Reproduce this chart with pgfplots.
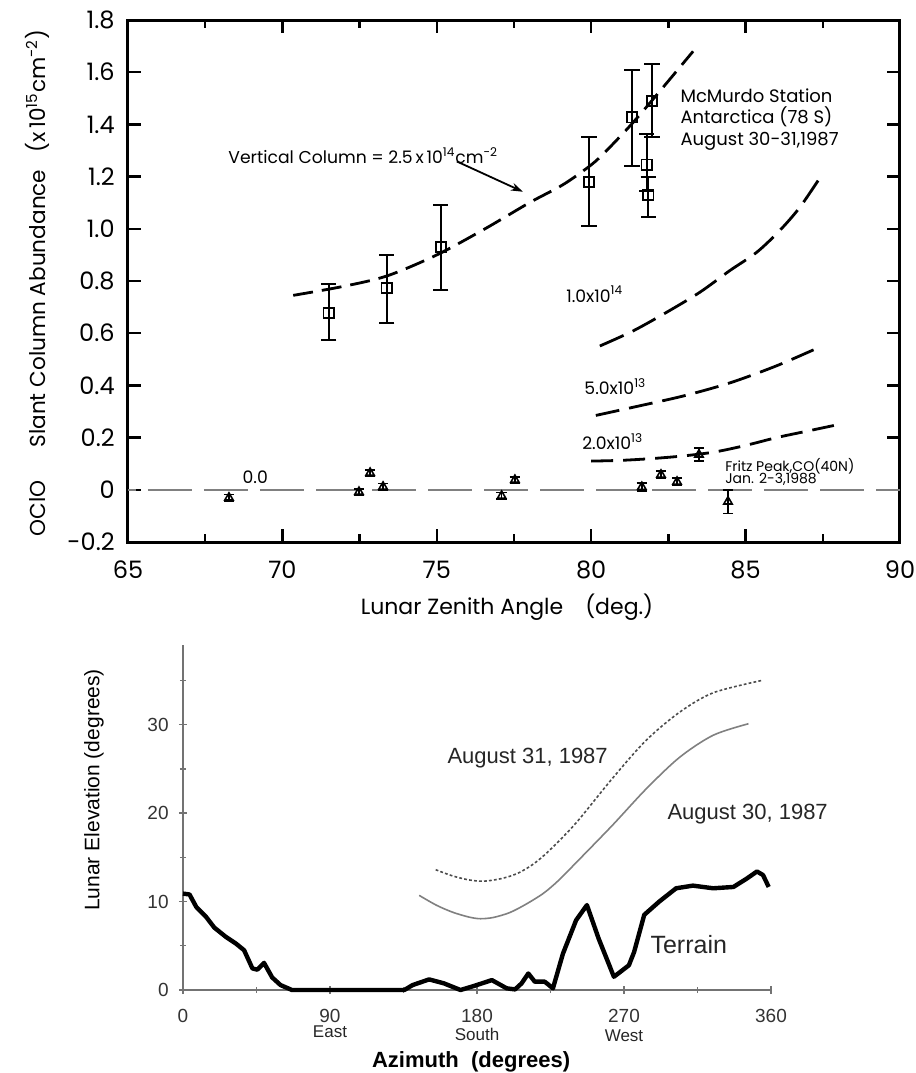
\documentclass[border=0pt]{standalone}
\usepackage{fontspec}
\setmainfont{Liberation Sans}
\newfontfamily\topfont{Poppins}
\usepackage{pgfplots}
\pgfplotsset{compat=1.18}
\usetikzlibrary{arrows.meta}

% OClO slant columns, McMurdo (squares) and Fritz Peak (triangles)
\pgfplotstableread{
x      y      ep     em
71.50  0.677  0.113  0.104
73.38  0.773  0.127  0.133
75.13  0.930  0.160  0.165
79.93  1.180  0.170  0.170
81.32  1.427  0.183  0.187
81.97  1.490  0.140  0.140
81.80  1.246  0.119  0.100
81.85  1.130  0.070  0.084
}\mcmurdo
\pgfplotstableread{
x      y       ep     em
68.27  -0.030  0.012  0.012
72.48  -0.008  0.012  0.012
72.84   0.065  0.012  0.012
73.26   0.012  0.012  0.012
77.10  -0.023  0.012  0.012
77.53   0.038  0.012  0.012
81.64   0.011  0.015  0.015
82.26   0.058  0.015  0.015
82.78   0.031  0.015  0.015
83.49   0.135  0.025  0.025
84.43  -0.045  0.045  0.045
}\fritz

\begin{document}
\begin{tikzpicture}
\useasboundingbox (0,0) rectangle (458pt,-536.5pt);

\begin{axis}[
  at={(64pt,-271pt)}, anchor=south west,
  scale only axis, width=386pt, height=261pt,
  xmin=65, xmax=90, ymin=-0.2, ymax=1.8,
  xtick={65,70,75,80,85,90}, xticklabels={65,70,75,80,85,90},
  minor x tick num=1,
  ytick={-0.2,0,0.2,0.4,0.6,0.8,1.0,1.2,1.4,1.6,1.8},
  yticklabels={-0.2,0,0.2,0.4,0.6,0.8,1.0,1.2,1.4,1.6,1.8},
  tick align=inside, major tick length=6.5pt, minor tick length=4pt,
  every tick/.style={black, line width=1.2pt},
  axis line style={line width=1.5pt},
  ticklabel style={font=\topfont\fontsize{12}{12}\selectfont},
  xticklabel style={anchor=center, yshift=-14pt},
  yticklabel style={anchor=east, inner sep=0pt, xshift=-6.5pt},
  xlabel={Lunar Zenith Angle\quad(deg.)},
  xlabel style={font=\topfont\fontsize{11}{11}\selectfont,
    at={(axis description cs:0.491,-0.1245)}, anchor=center},
  ylabel={OClO\quad\ \ Slant Column Abundance\ \ \ (x\,10\textsuperscript{15}cm\textsuperscript{-2})},
  ylabel style={font=\topfont\fontsize{10.8}{10.8}\selectfont,
    at={(axis description cs:-0.1179,0.496)}, anchor=center},
]
% model curves for several vertical columns
\addplot[smooth, line width=1.4pt, dash pattern=on 10pt off 4.5pt] coordinates {
  (70.35,0.745) (72,0.78) (73.4,0.82) (75,0.90) (76.56,1.0) (78,1.10)
  (79.1,1.17) (80,1.245) (80.5,1.30) (81.3,1.40) (82.1,1.51) (83.3,1.68)};
\addplot[smooth, line width=1.4pt, dash pattern=on 13pt off 5pt] coordinates {
  (80.28,0.551) (81.36,0.609) (82.44,0.68) (83.52,0.757) (84.49,0.84)
  (85.36,0.91) (86.11,0.994) (86.76,1.083) (87.46,1.205)};
\addplot[smooth, line width=1.4pt, dash pattern=on 12pt off 5pt] coordinates {
  (80.15,0.285) (81.5,0.32) (83,0.36) (84.5,0.41) (86,0.475) (87.46,0.55)};
\addplot[smooth, line width=1.4pt, dash pattern=on 11pt off 5pt] coordinates {
  (80,0.11) (81,0.113) (82,0.12) (83,0.13) (84,0.145) (85,0.17)
  (86,0.2) (87,0.225) (88,0.25)};
\addplot[line width=1pt, black!50, dash pattern=on 22pt off 6pt, dash phase=18pt]
  coordinates {(65,0) (90,0)};

\addplot[only marks, mark=square, mark size=2.6pt,
  mark options={fill=white, solid, line width=0.9pt},
  error bars/.cd, y dir=both, y explicit,
  error bar style={line width=1pt},
  error mark options={rotate=90, line width=1pt, mark size=3.8pt}]
  table[x=x, y=y, y error plus=ep, y error minus=em] {\mcmurdo};
\addplot[only marks, mark=triangle, mark size=2.4pt,
  mark options={fill=white, solid, line width=0.8pt},
  error bars/.cd, y dir=both, y explicit,
  error bar style={line width=0.8pt},
  error mark options={rotate=90, line width=0.8pt, mark size=2.6pt}]
  table[x=x, y=y, y error plus=ep, y error minus=em] {\fritz};

\begin{scope}[every node/.style={font=\topfont\fontsize{8.6}{8.6}\selectfont, inner sep=0pt}]
\node[anchor=west] at (axis cs:68.24,1.28)
  {Vertical Column = 2.5\,x\,10\textsuperscript{14}cm\textsuperscript{-2}};
\node[anchor=west, align=left, font=\topfont\fontsize{9}{10.8}\selectfont]
  at (axis cs:82.88,1.42) {McMurdo Station\\Antarctica (78 S)\\August 30-31,1987};
\node[anchor=west] at (axis cs:79.18,0.75) {1.0x10\textsuperscript{14}};
\node[anchor=west] at (axis cs:79.77,0.396) {5.0x10\textsuperscript{13}};
\node[anchor=west] at (axis cs:79.7,0.185) {2.0x10\textsuperscript{13}};
\node[anchor=west] at (axis cs:68.7,0.05) {0.0};
\node[anchor=west, font=\topfont\fontsize{7}{7}\selectfont] at (axis cs:84.33,0.09) {Fritz Peak,CO(40N)};
\node[anchor=west, font=\topfont\fontsize{7}{7}\selectfont] at (axis cs:84.33,0.04) {Jan. 2-3,1988};
\end{scope}
\draw[-{Stealth[length=6pt,width=4pt]}, line width=0.9pt]
  (axis cs:75.65,1.258) -- (axis cs:77.79,1.142);
\end{axis}

\begin{axis}[
  at={(91.5pt,-495pt)}, anchor=south west,
  scale only axis, width=294pt, height=172.5pt,
  xmin=0, xmax=360, ymin=0, ymax=39,
  axis x line=bottom, axis y line=left,
  axis line style={-, black!55, line width=0.8pt},
  xtick={0,90,180,270,360}, minor xtick={45,135,225,315},
  ytick={0,10,20,30}, minor ytick={5,15,25,35},
  tick align=center, major tick length=4pt, minor tick length=3pt,
  every tick/.style={black!55, line width=0.7pt},
  /pgf/number format/assume math mode=true,
  ticklabel style={font=\fontsize{9.5}{9.5}\selectfont, text=black!80},
  xticklabel style={anchor=center, inner sep=0pt, yshift=-11pt},
  yticklabel style={anchor=east, inner sep=0pt, xshift=-5pt},
  xlabel={Azimuth\ \ (degrees)},
  xlabel style={font=\bfseries\fontsize{11}{11}\selectfont,
    at={(axis description cs:0.49,-0.2087)}, anchor=center},
  ylabel={Lunar Elevation (degrees)},
  ylabel style={font=\fontsize{10.5}{10.5}\selectfont,
    at={(axis description cs:-0.1514,0.58)}, anchor=center},
  clip=false,
]
\addplot[smooth, black!50, line width=0.8pt] coordinates {
  (144.6,10.7) (155,9.6) (165,8.8) (175,8.25) (182,8.06) (190,8.2)
  (200,8.75) (210,9.7) (220.8,10.95) (230,12.4) (240.7,14.4) (262.8,18.6)
  (283.4,22.7) (304,26.3) (324.6,28.8) (346.2,30.1)};
\addplot[smooth, black!70, line width=0.8pt, dash pattern=on 1.4pt off 1.1pt] coordinates {
  (154.7,13.6) (165,12.9) (175,12.45) (184,12.3) (195,12.6) (205,13.2)
  (215,14.3) (225,15.9) (240.7,18.9) (262.8,23.9) (283.4,28.2)
  (304,31.4) (324.6,33.6) (354.5,35.0)};
\addplot[black, line width=2.2pt, line join=round] coordinates {
  (0,10.9) (4,10.8) (8.1,9.4) (14.2,8.25) (19.2,7.05) (26.3,6.0) (32.4,5.25)
  (37.4,4.5) (42.5,2.44) (45.5,2.3) (49.6,3.07) (54.6,1.42) (59.7,0.56)
  (66.7,0) (135.5,0) (140.6,0.56) (150.7,1.2) (159.8,0.75) (169.9,0)
  (178,0.45) (189.1,1.12) (198.2,0.19) (203.3,0.07) (207.3,0.75)
  (211.4,1.87) (215.4,0.94) (221.5,0.94) (226.5,0.19) (232.6,4.1)
  (240.7,7.9) (247.3,9.6) (254.5,5.8) (263.8,1.5) (267.9,2.07) (273,2.8)
  (276.2,4.3) (282.4,8.5) (291.6,10.0) (301.9,11.5) (312.2,11.8)
  (324.6,11.5) (337,11.65) (345.2,12.6) (351.4,13.4) (355.1,13.0)
  (358.6,11.65)};
\begin{scope}[every node/.style={inner sep=0pt, text=black!85}]
\node[anchor=west, font=\fontsize{11}{11}\selectfont] at (axis cs:161.7,26.2) {August 31, 1987};
\node[anchor=west, font=\fontsize{11}{11}\selectfont] at (axis cs:296.4,19.9) {August 30, 1987};
\node[anchor=west, font=\fontsize{12.5}{12.5}\selectfont] at (axis cs:286,5.1) {Terrain};
\node[font=\fontsize{8.5}{8.5}\selectfont] at (axis cs:90,0) [yshift=-21pt] {East};
\node[font=\fontsize{8.5}{8.5}\selectfont] at (axis cs:180,0) [yshift=-22pt] {South};
\node[font=\fontsize{8.5}{8.5}\selectfont] at (axis cs:270,0) [yshift=-23pt] {West};
\end{scope}
\end{axis}
\end{tikzpicture}
\end{document}
